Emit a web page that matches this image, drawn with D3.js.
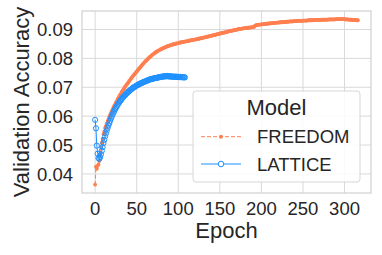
<!DOCTYPE html>
<html>
<head>
<meta charset="utf-8">
<script src="https://cdn.jsdelivr.net/npm/d3@7.9.0/dist/d3.min.js"></script>
<style>
  body { margin: 0; background: #fff; }
  svg text { font-family: "Liberation Sans", Arial, sans-serif; fill: #262626; }
</style>
</head>
<body>
<svg id="chart" width="382" height="255"></svg>
<script>
// validation accuracy per epoch
const freedomAcc = [
  0.0363, 0.0425, 0.0418, 0.0428, 0.0433, 0.0445, 0.0468, 0.0492, 0.0508, 0.0522,
  0.0538, 0.0547, 0.0559, 0.0566, 0.0574, 0.0583, 0.0590, 0.0598, 0.0604, 0.0611,
  0.0618, 0.0623, 0.0630, 0.0636, 0.0641, 0.0648, 0.0652, 0.0659, 0.0663, 0.0669,
  0.0674, 0.0678, 0.0684, 0.0688, 0.0693, 0.0697, 0.0702, 0.0705, 0.0710, 0.0713,
  0.0717, 0.0722, 0.0725, 0.0730, 0.0733, 0.0737, 0.0741, 0.0744, 0.0748, 0.0751,
  0.0755, 0.0758, 0.0762, 0.0765, 0.0768, 0.0772, 0.0775, 0.0779, 0.0782, 0.0785,
  0.0789, 0.0791, 0.0794, 0.0797, 0.0800, 0.0803, 0.0805, 0.0808, 0.0810, 0.0813,
  0.0815, 0.0817, 0.0819, 0.0822, 0.0823, 0.0825, 0.0827, 0.0828, 0.0830, 0.0832,
  0.0833, 0.0834, 0.0836, 0.0837, 0.0838, 0.0840, 0.0841, 0.0842, 0.0843, 0.0844,
  0.0845, 0.0846, 0.0847, 0.0848, 0.0848, 0.0849, 0.0850, 0.0851, 0.0852, 0.0852,
  0.0853, 0.0854, 0.0855, 0.0855, 0.0856, 0.0856, 0.0857, 0.0858, 0.0858, 0.0859,
  0.0859, 0.0860, 0.0860, 0.0861, 0.0862, 0.0862, 0.0863, 0.0863, 0.0864, 0.0865,
  0.0865, 0.0866, 0.0866, 0.0867, 0.0868, 0.0868, 0.0869, 0.0870, 0.0870, 0.0871,
  0.0872, 0.0872, 0.0873, 0.0874, 0.0874, 0.0875, 0.0876, 0.0876, 0.0877, 0.0878,
  0.0879, 0.0879, 0.0880, 0.0881, 0.0881, 0.0882, 0.0883, 0.0884, 0.0884, 0.0885,
  0.0886, 0.0887, 0.0887, 0.0888, 0.0889, 0.0889, 0.0890, 0.0891, 0.0892, 0.0892,
  0.0893, 0.0894, 0.0894, 0.0895, 0.0896, 0.0896, 0.0897, 0.0898, 0.0898, 0.0899,
  0.0899, 0.0900, 0.0901, 0.0901, 0.0902, 0.0902, 0.0903, 0.0903, 0.0904, 0.0904,
  0.0905, 0.0905, 0.0905, 0.0906, 0.0906, 0.0906, 0.0907, 0.0907, 0.0907, 0.0908,
  0.0908, 0.0909, 0.0912, 0.0914, 0.0915, 0.0916, 0.0916, 0.0917, 0.0917, 0.0917,
  0.0918, 0.0918, 0.0918, 0.0919, 0.0919, 0.0919, 0.0920, 0.0920, 0.0920, 0.0921,
  0.0921, 0.0921, 0.0922, 0.0922, 0.0922, 0.0923, 0.0923, 0.0923, 0.0924, 0.0924,
  0.0924, 0.0924, 0.0925, 0.0925, 0.0925, 0.0925, 0.0926, 0.0926, 0.0926, 0.0926,
  0.0927, 0.0927, 0.0927, 0.0927, 0.0928, 0.0928, 0.0928, 0.0928, 0.0928, 0.0929,
  0.0929, 0.0929, 0.0929, 0.0929, 0.0930, 0.0930, 0.0930, 0.0930, 0.0930, 0.0930,
  0.0931, 0.0931, 0.0931, 0.0931, 0.0931, 0.0931, 0.0932, 0.0932, 0.0932, 0.0932,
  0.0932, 0.0932, 0.0932, 0.0933, 0.0933, 0.0933, 0.0933, 0.0933, 0.0933, 0.0933,
  0.0933, 0.0933, 0.0934, 0.0934, 0.0934, 0.0934, 0.0934, 0.0934, 0.0934, 0.0934,
  0.0934, 0.0935, 0.0935, 0.0935, 0.0935, 0.0935, 0.0935, 0.0935, 0.0935, 0.0935,
  0.0936, 0.0936, 0.0936, 0.0936, 0.0936, 0.0936, 0.0936, 0.0936, 0.0936, 0.0936,
  0.0936, 0.0935, 0.0935, 0.0935, 0.0935, 0.0934, 0.0934, 0.0934, 0.0934, 0.0933,
  0.0933, 0.0933, 0.0933, 0.0933, 0.0932, 0.0932, 0.0932
];

const latticeAcc = [
  0.0587, 0.0558, 0.0498, 0.0470, 0.0455, 0.0452, 0.0458, 0.0468, 0.0480, 0.0493,
  0.0507, 0.0518, 0.0530, 0.0540, 0.0550, 0.0559, 0.0568, 0.0576, 0.0584, 0.0592,
  0.0599, 0.0606, 0.0612, 0.0618, 0.0624, 0.0629, 0.0634, 0.0639, 0.0644, 0.0648,
  0.0652, 0.0656, 0.0660, 0.0664, 0.0667, 0.0670, 0.0673, 0.0676, 0.0679, 0.0682,
  0.0685, 0.0687, 0.0690, 0.0692, 0.0694, 0.0697, 0.0699, 0.0701, 0.0702, 0.0704,
  0.0706, 0.0708, 0.0709, 0.0711, 0.0712, 0.0714, 0.0715, 0.0716, 0.0718, 0.0719,
  0.0720, 0.0721, 0.0722, 0.0724, 0.0725, 0.0726, 0.0727, 0.0728, 0.0729, 0.0729,
  0.0730, 0.0731, 0.0732, 0.0732, 0.0733, 0.0733, 0.0734, 0.0735, 0.0735, 0.0736,
  0.0736, 0.0737, 0.0737, 0.0738, 0.0738, 0.0738, 0.0738, 0.0739, 0.0738, 0.0738,
  0.0737, 0.0738, 0.0737, 0.0737, 0.0736, 0.0737, 0.0736, 0.0737, 0.0736, 0.0736,
  0.0736, 0.0735, 0.0735, 0.0736, 0.0735, 0.0735, 0.0734, 0.0735, 0.0734
];

const models = ['FREEDOM', 'LATTICE'];
const xTicks = [0, 50, 100, 150, 200, 250, 300];
const yTicks = [0.04, 0.05, 0.06, 0.07, 0.08, 0.09];

const W = 382, H = 255;
const margin = { top: 11, right: 11, bottom: 62, left: 82 };
const plotW = W - margin.left - margin.right;
const plotH = H - margin.top - margin.bottom;

const svg = d3.select('#chart');
const g = svg.append('g').attr('transform', `translate(${margin.left},${margin.top})`);

const x = d3.scaleLinear().domain([-15.8, 331.8]).range([0, plotW]);
const y = d3.scaleLinear().domain([0.0334, 0.0964]).range([plotH, 0]);

// grid
g.selectAll('.gx').data(xTicks).enter().append('line')
  .attr('x1', d => x(d)).attr('x2', d => x(d))
  .attr('y1', 0).attr('y2', plotH)
  .attr('stroke', '#d9d9d9').attr('stroke-width', 1);
g.selectAll('.gy').data(yTicks).enter().append('line')
  .attr('x1', 0).attr('x2', plotW)
  .attr('y1', d => y(d)).attr('y2', d => y(d))
  .attr('stroke', '#d9d9d9').attr('stroke-width', 1);

g.append('rect')
  .attr('x', 0).attr('y', 0).attr('width', plotW).attr('height', plotH)
  .attr('fill', 'none').attr('stroke', '#d0d0d0').attr('stroke-width', 1.2);

// tick labels
g.selectAll('.tx').data(xTicks).enter().append('text')
  .attr('x', d => x(d)).attr('y', plotH + 22)
  .attr('text-anchor', 'middle')
  .style('font-size', '18.5px')
  .text(d => d);
g.selectAll('.ty').data(yTicks).enter().append('text')
  .attr('x', -9).attr('y', d => y(d))
  .attr('dy', '0.36em')
  .attr('text-anchor', 'end')
  .style('font-size', '18.5px')
  .text(d => d3.format('.2f')(d));

// axis labels
svg.append('text')
  .attr('x', margin.left + plotW / 2).attr('y', 238)
  .attr('text-anchor', 'middle')
  .style('font-size', '22px')
  .text('Epoch');
svg.append('text')
  .attr('transform', `translate(29,${margin.top + plotH / 2}) rotate(-90)`)
  .attr('text-anchor', 'middle')
  .style('font-size', '22px')
  .text('Validation Accuracy');

const line = d3.line().x((d, i) => x(i)).y(d => y(d));

// FREEDOM: dashed coral with dots
g.append('path').datum(freedomAcc)
  .attr('d', line)
  .attr('fill', 'none').attr('stroke', '#ff7f50')
  .attr('stroke-width', 1).attr('stroke-dasharray', '4,2');
g.selectAll('.fd').data(freedomAcc).enter().append('circle')
  .attr('cx', (d, i) => x(i)).attr('cy', d => y(d))
  .attr('r', 1.9).attr('fill', '#ff7f50');

// LATTICE: solid dodgerblue with open circles
g.append('path').datum(latticeAcc)
  .attr('d', line)
  .attr('fill', 'none').attr('stroke', '#1e90ff').attr('stroke-width', 1);
g.selectAll('.lt').data(latticeAcc).enter().append('circle')
  .attr('cx', (d, i) => x(i)).attr('cy', d => y(d))
  .attr('r', 2.6).attr('fill', 'none')
  .attr('stroke', '#1e90ff').attr('stroke-width', 1);

// legend
const lg = svg.append('g').attr('transform', 'translate(193,91)');
lg.append('rect')
  .attr('width', 167).attr('height', 91).attr('rx', 3)
  .attr('fill', '#fff').attr('fill-opacity', 0.85)
  .attr('stroke', '#d6d6d6').attr('stroke-width', 1);
lg.append('text')
  .attr('x', 83.5).attr('y', 23.5)
  .attr('text-anchor', 'middle')
  .style('font-size', '22px')
  .text('Model');

models.forEach((m, i) => {
  const yy = 45.7 + i * 27.3;
  const color = i === 0 ? '#ff7f50' : '#1e90ff';
  lg.append('line')
    .attr('x1', 8).attr('x2', 48).attr('y1', yy).attr('y2', yy)
    .attr('stroke', color).attr('stroke-width', 1)
    .attr('stroke-dasharray', i === 0 ? '4,2' : null);
  if (i === 0) {
    lg.append('circle').attr('cx', 28).attr('cy', yy).attr('r', 2).attr('fill', color);
  } else {
    lg.append('circle').attr('cx', 28).attr('cy', yy).attr('r', 2.8)
      .attr('fill', '#fff').attr('stroke', color).attr('stroke-width', 1);
  }
  lg.append('text')
    .attr('x', 64).attr('y', yy)
    .attr('dy', '0.36em')
    .style('font-size', '18.5px')
    .text(m);
});
</script>
</body>
</html>
